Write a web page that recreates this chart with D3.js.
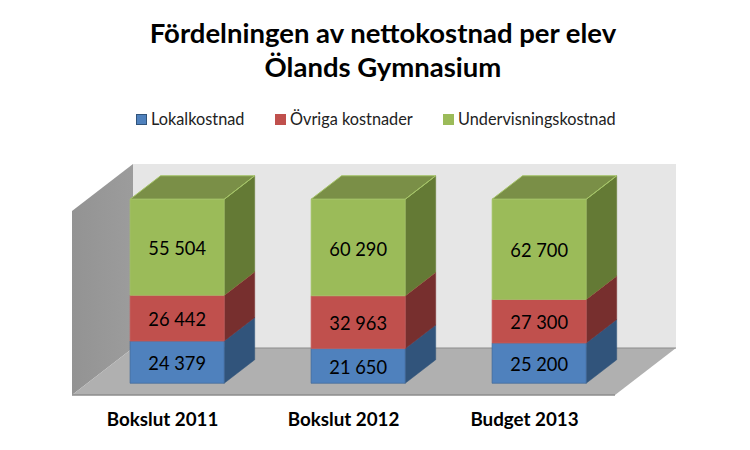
<!DOCTYPE html>
<html>
<head>
<meta charset="utf-8">
<script src="https://cdn.jsdelivr.net/npm/d3@7"></script>
<style>
  html, body { margin: 0; padding: 0; background: #fff; }
  text { font-family: Lato, "Open Sans", sans-serif; fill: #000; }
</style>
</head>
<body>
<div id="chart"></div>
<script>
const categories = ['Bokslut 2011', 'Bokslut 2012', 'Budget 2013'];
const seriesNames = ['Lokalkostnad', 'Övriga kostnader', 'Undervisningskostnad'];
const lokalkostnad = [24379, 21650, 25200];
const ovrigaKostnader = [26442, 32963, 27300];
const undervisningskostnad = [55504, 60290, 62700];
const titleLines = ['Fördelningen av nettokostnad per elev', 'Ölands Gymnasium'];
const legendX = [136, 275, 443];

const colors = [
  {front: '#4f81bd', side: '#31547b', edge: '#3f6797'},
  {front: '#c0504d', side: '#772f2e', edge: '#c65f5c'},
  {front: '#9bbb59', side: '#647a35', top: '#7a8f47', edge: '#a5c468'}
];

const rows = categories.map((c, i) => ({
  category: c,
  [seriesNames[0]]: lokalkostnad[i],
  [seriesNames[1]]: ovrigaKostnader[i],
  [seriesNames[2]]: undervisningskostnad[i]
}));

const svg = d3.select('#chart').append('svg')
  .attr('width', 750)
  .attr('height', 450)
  .style('display', 'block');

// front plane of the 3d box, depth goes up and to the right
const x = d3.scaleBand().domain(categories).range([72, 615]).paddingInner(0.48).paddingOuter(0.24);
const y = d3.scaleLinear().domain([0, 1]).range([395, 211]);
const depthX = d3.scaleLinear().domain([0, 1]).range([0, 61]);
const depthY = d3.scaleLinear().domain([0, 1]).range([0, -47]);

const pt = (px, py, z) => [px + depthX(z), py + depthY(z)];
const poly = pts => 'M' + pts.map(p => p.join(',')).join('L') + 'Z';

const defs = svg.append('defs');
const wallGrad = defs.append('linearGradient').attr('id', 'wall');
wallGrad.append('stop').attr('offset', '0%').attr('stop-color', '#939393');
wallGrad.append('stop').attr('offset', '100%').attr('stop-color', '#9c9c9c');

const x0 = x.range()[0], x1 = x.range()[1];
const y0 = y(0), y1 = y(1);

// walls and floor
svg.append('path').attr('fill', '#e6e6e6')
  .attr('d', poly([pt(x0, y0, 1), pt(x1, y0, 1), pt(x1, y1, 1), pt(x0, y1, 1)]));
svg.append('path').attr('fill', 'url(#wall)')
  .attr('d', poly([pt(x0, y0, 0), pt(x0, y0, 1), pt(x0, y1, 1), pt(x0, y1, 0)]));
svg.append('path').attr('fill', '#b0b0b0')
  .attr('d', poly([pt(x0, y0, 0), pt(x1, y0, 0), pt(x1, y0, 1), pt(x0, y0, 1)]));
svg.append('path').attr('fill', 'none').attr('stroke', '#8c8c8c').attr('stroke-width', 1)
  .attr('d', 'M' + [pt(x0, y0, 1), pt(x1, y0, 1)].map(p => p.join(',')).join('L'));
svg.append('path').attr('fill', 'none').attr('stroke', '#8c8c8c').attr('stroke-width', 1.5)
  .attr('d', 'M' + [pt(x0, y0, 0), pt(x1, y0, 0)].map(p => p.join(',')).join('L'));

// 100% stacked
const stack = d3.stack().keys(seriesNames).offset(d3.stackOffsetExpand);
const stacked = stack(rows);

const zFront = 0.25, zBack = 0.75;
const barShift = -0.6;

stacked.forEach((layer, s) => {
  const col = colors[s];
  const g = svg.append('g');
  layer.forEach(d => {
    const left = x(d.data.category) + barShift, right = left + x.bandwidth();
    const bottom = y(d[0]), top = y(d[1]);
    // right side
    g.append('path').attr('fill', col.side).attr('stroke', col.side).attr('stroke-width', 0.5)
      .attr('d', poly([pt(right, bottom, zFront), pt(right, bottom, zBack), pt(right, top, zBack), pt(right, top, zFront)]));
    // top, only the last series shows it
    if (s === stacked.length - 1) {
      g.append('path').attr('fill', col.top).attr('stroke', col.edge).attr('stroke-width', 1)
        .attr('d', poly([pt(left, top, zFront), pt(right, top, zFront), pt(right, top, zBack), pt(left, top, zBack)]));
    }
    g.append('path').attr('fill', 'none').attr('stroke', col.edge).attr('stroke-width', 1)
      .attr('d', 'M' + [pt(right, top, zFront), pt(right, top, zBack)].map(p => p.join(',')).join('L'));
    // front
    g.append('path').attr('fill', col.front).attr('stroke', col.edge).attr('stroke-width', 0.7)
      .attr('d', poly([pt(left, bottom, zFront), pt(right, bottom, zFront), pt(right, top, zFront), pt(left, top, zFront)]));
  });
});

// data labels go on top of every bar
const fmt = v => d3.format(',')(v).replace(',', ' ');
stacked.forEach(layer => {
  layer.forEach(d => {
    const p = pt(x(d.data.category) + x.bandwidth() / 2 + barShift, (y(d[0]) + y(d[1])) / 2, zFront);
    svg.append('text')
      .attr('x', p[0])
      .attr('y', p[1] + 8)
      .attr('text-anchor', 'middle')
      .style('font-size', '18.3px')
      .text(fmt(d.data[layer.key]));
  });
});

// category axis
const axis = svg.append('g')
  .attr('transform', `translate(0,${y0})`)
  .call(d3.axisBottom(x).tickSize(0).tickPadding(18));
axis.select('.domain').remove();
axis.selectAll('text')
  .style('font-family', 'Lato, sans-serif')
  .style('font-size', '18.8px')
  .style('font-weight', 'bold')
  .attr('fill', '#000');

// title
svg.selectAll('.title').data(titleLines).enter().append('text')
  .attr('class', 'title')
  .attr('x', 383)
  .attr('y', (d, i) => 42.5 + i * 34)
  .attr('text-anchor', 'middle')
  .style('font-size', '27.5px')
  .style('font-weight', 'bold')
  .text(d => d);

// legend
seriesNames.forEach((name, i) => {
  svg.append('rect')
    .attr('x', legendX[i] + 0.5).attr('y', 114.5)
    .attr('width', 10).attr('height', 10)
    .attr('fill', colors[i].front)
    .attr('stroke', i === 0 ? '#31547b' : colors[i].front);
  svg.append('text')
    .attr('x', legendX[i] + 15)
    .attr('y', 125)
    .style('font-size', '16.3px')
    .style('fill', '#222')
    .text(name);
});
</script>
</body>
</html>
